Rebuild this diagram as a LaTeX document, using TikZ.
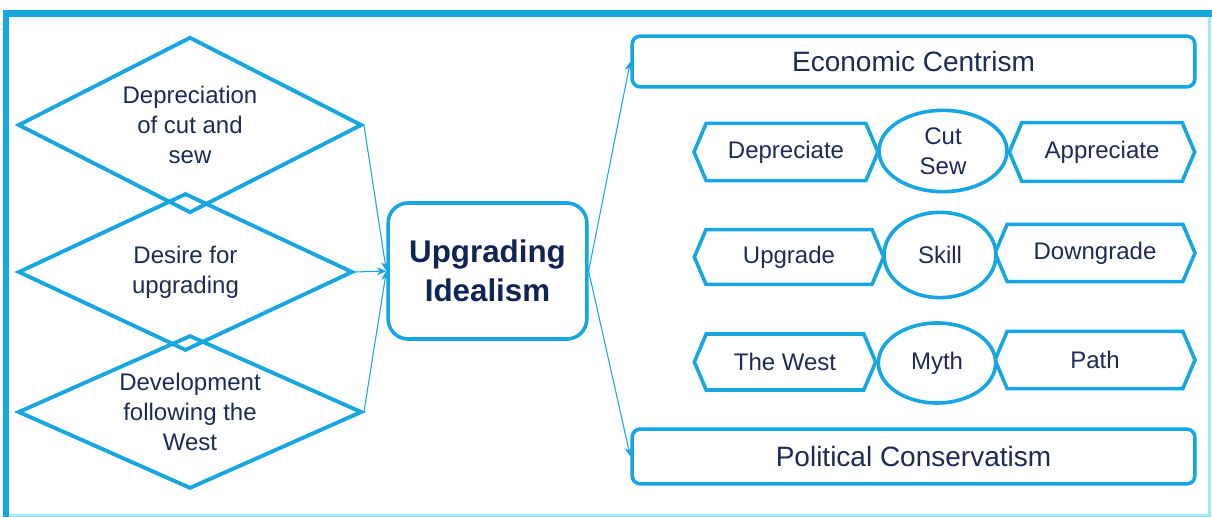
\documentclass[tikz,border=0pt]{standalone}
\usepackage{fontspec}
\setmainfont{Liberation Sans}
\usetikzlibrary{shapes.geometric,shapes.symbols,arrows.meta}
\definecolor{lineblue}{RGB}{22,167,226}
\definecolor{edgecyan}{RGB}{160,232,250}
\definecolor{navy}{RGB}{30,42,88}
\definecolor{deepnavy}{RGB}{16,36,86}
\tikzset{
  shapeline/.style={draw=lineblue, line width=2.7pt},
  diamondbox/.style={shapeline, line width=2.9pt, shape=diamond, inner sep=0pt, minimum width=258pt},
  labeltext/.style={text=navy, font=\fontsize{18}{22.5}\selectfont, align=center, inner sep=0pt},
  headbox/.style={shapeline, fill=white, rounded corners=6pt, minimum width=422pt, minimum height=38pt,
    text=navy, font=\fontsize{21}{25}\selectfont},
  hexbox/.style={shapeline, fill=white, shape=signal, signal to=west and east,
    signal pointer angle=134, inner sep=0pt, text=navy, font=\fontsize{18}{22.5}\selectfont},
  ovalbox/.style={shapeline, fill=white, shape=ellipse, inner sep=0pt, text=navy, align=center,
    font=\fontsize{18}{22.5}\selectfont},
  link/.style={draw=lineblue, line width=0.8pt, -{Stealth[length=7pt,width=6pt]}},
}
\begin{document}
\begin{tikzpicture}[x=0.75pt, y=-0.75pt]
\useasboundingbox (0,0) rectangle (1212,517);
\fill[white] (0,0) rectangle (1212,517);
% outer frame
\draw[edgecyan, line width=2pt] (6,515.5) -- (1209.5,515.5) -- (1209.5,13);
\draw[lineblue, line width=5.2pt] (6,517) -- (6,13.5) -- (1212,13.5);

% left-hand diamonds, outlines only so that the overlaps stay visible
\node[diamondbox, minimum height=132pt] (d1) at (190,125) {};
\node[diamondbox, minimum width=251pt, minimum height=118pt] (d2) at (185.5,272) {};
\node[diamondbox, minimum height=115pt] (d3) at (190,412) {};
\node[labeltext] (t1) at (d1) {Depreciation\\of cut and\\sew};
\node[labeltext] (t2) at (d2) {Desire for\\upgrading};
\node[labeltext] (t3) at (d3) {Development\\following the\\West};

% central box
\node[shapeline, fill=white, rounded corners=15pt, minimum width=149pt, minimum height=102pt,
  text=deepnavy, align=center, font=\bfseries\fontsize{23.5}{29}\selectfont] (main) at (487.5,271) {Upgrading\\Idealism};

% right-hand headings
\node[headbox] (eco) at (913.5,61.5) {Economic Centrism};
\node[headbox, minimum height=41pt] (pol) at (913.5,456.5) {Political Conservatism};

% row 1
\node[hexbox, minimum width=138pt, minimum height=43pt] (dep) at (786,152) {Depreciate};
\node[hexbox, minimum width=139pt, minimum height=44pt] (app) at (1102,152) {Appreciate};
\node[ovalbox, minimum width=96pt, minimum height=61pt] (cut) at (943,151) {Cut\\Sew};
% row 2
\node[hexbox, minimum width=142pt, minimum height=41pt] (upg) at (789,257) {Upgrade};
\node[hexbox, minimum width=150pt, minimum height=43pt] (down) at (1095,253) {Downgrade};
\node[ovalbox, minimum width=84pt, minimum height=64pt] (skill) at (940,255) {Skill};
% row 3
\node[hexbox, minimum width=136pt, minimum height=42pt] (west) at (785,362) {The West};
\node[hexbox, minimum width=150pt, minimum height=43pt] (path) at (1095,360) {Path};
\node[ovalbox, minimum width=88pt, minimum height=60pt] (myth) at (937,363) {Myth};

% connectors
\draw[link] (d1.east) -- (main.west);
\draw[link] (d2.east) -- (main.west);
\draw[link] (d3.east) -- (main.west);
\draw[link] (main.east) -- (eco.west);
\draw[link] (main.east) -- (pol.west);
\end{tikzpicture}
\end{document}
